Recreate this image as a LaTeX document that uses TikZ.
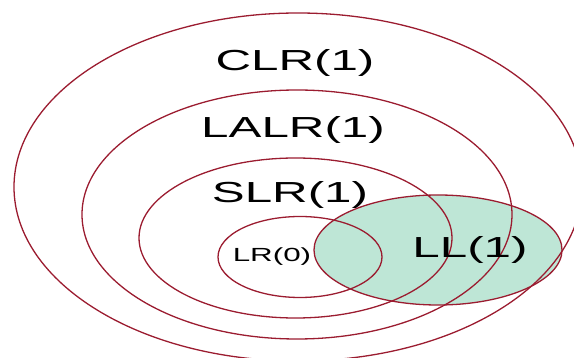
\documentclass[tikz,border=0pt]{standalone}
\usepackage{fontspec}
\setmainfont{Liberation Sans}
\usetikzlibrary{shapes.geometric}

\definecolor{setline}{RGB}{155,28,48}
\definecolor{llfill}{RGB}{190,230,214}

\tikzset{
    langset/.style={ellipse, draw=setline, line width=1.3pt, inner sep=0pt},
    langfill/.style={ellipse, fill=llfill, inner sep=0pt},
    langlabel/.style={anchor=base, inner sep=0pt, font=\fontsize{29}{30}\selectfont},
}

\begin{document}
\begin{tikzpicture}[x=1pt, y=-1pt]
        \useasboundingbox (0,0) rectangle (574,358);
        % LL(1) fill goes under all outlines
        \node[langfill, minimum width=248pt, minimum height=110pt] (llbg) at (438,250) {};
        \node[langset, minimum width=568pt, minimum height=348pt] (clr)  at (298,187)   {};
        \node[langset, minimum width=430pt, minimum height=249pt] (lalr) at (297,214.5) {};
        \node[langset, minimum width=313pt, minimum height=160pt] (slr)  at (295.5,238) {};
        \node[langset, minimum width=164pt, minimum height=81pt]  (lr0)  at (300,257)   {};
        \node[langset, minimum width=248pt, minimum height=110pt] (ll)   at (438,250)   {};
        % labels
        \node[langlabel] (clrtext)  at (295,71)  {\scalebox{1.7}[1]{CLR(1)}};
        \node[langlabel] (lalrtext) at (293,138) {\scalebox{1.7}[1]{LALR(1)}};
        \node[langlabel] (slrtext)  at (290,203) {\scalebox{1.7}[1]{SLR(1)}};
        \node[langlabel] (lltext)   at (470,258) {\scalebox{1.7}[1]{LL(1)}};
        \node[langlabel, font=\fontsize{19}{20}\selectfont] (lr0text) at (272,262) {\scalebox{1.65}[1]{LR(0)}};
\end{tikzpicture}
\end{document}
